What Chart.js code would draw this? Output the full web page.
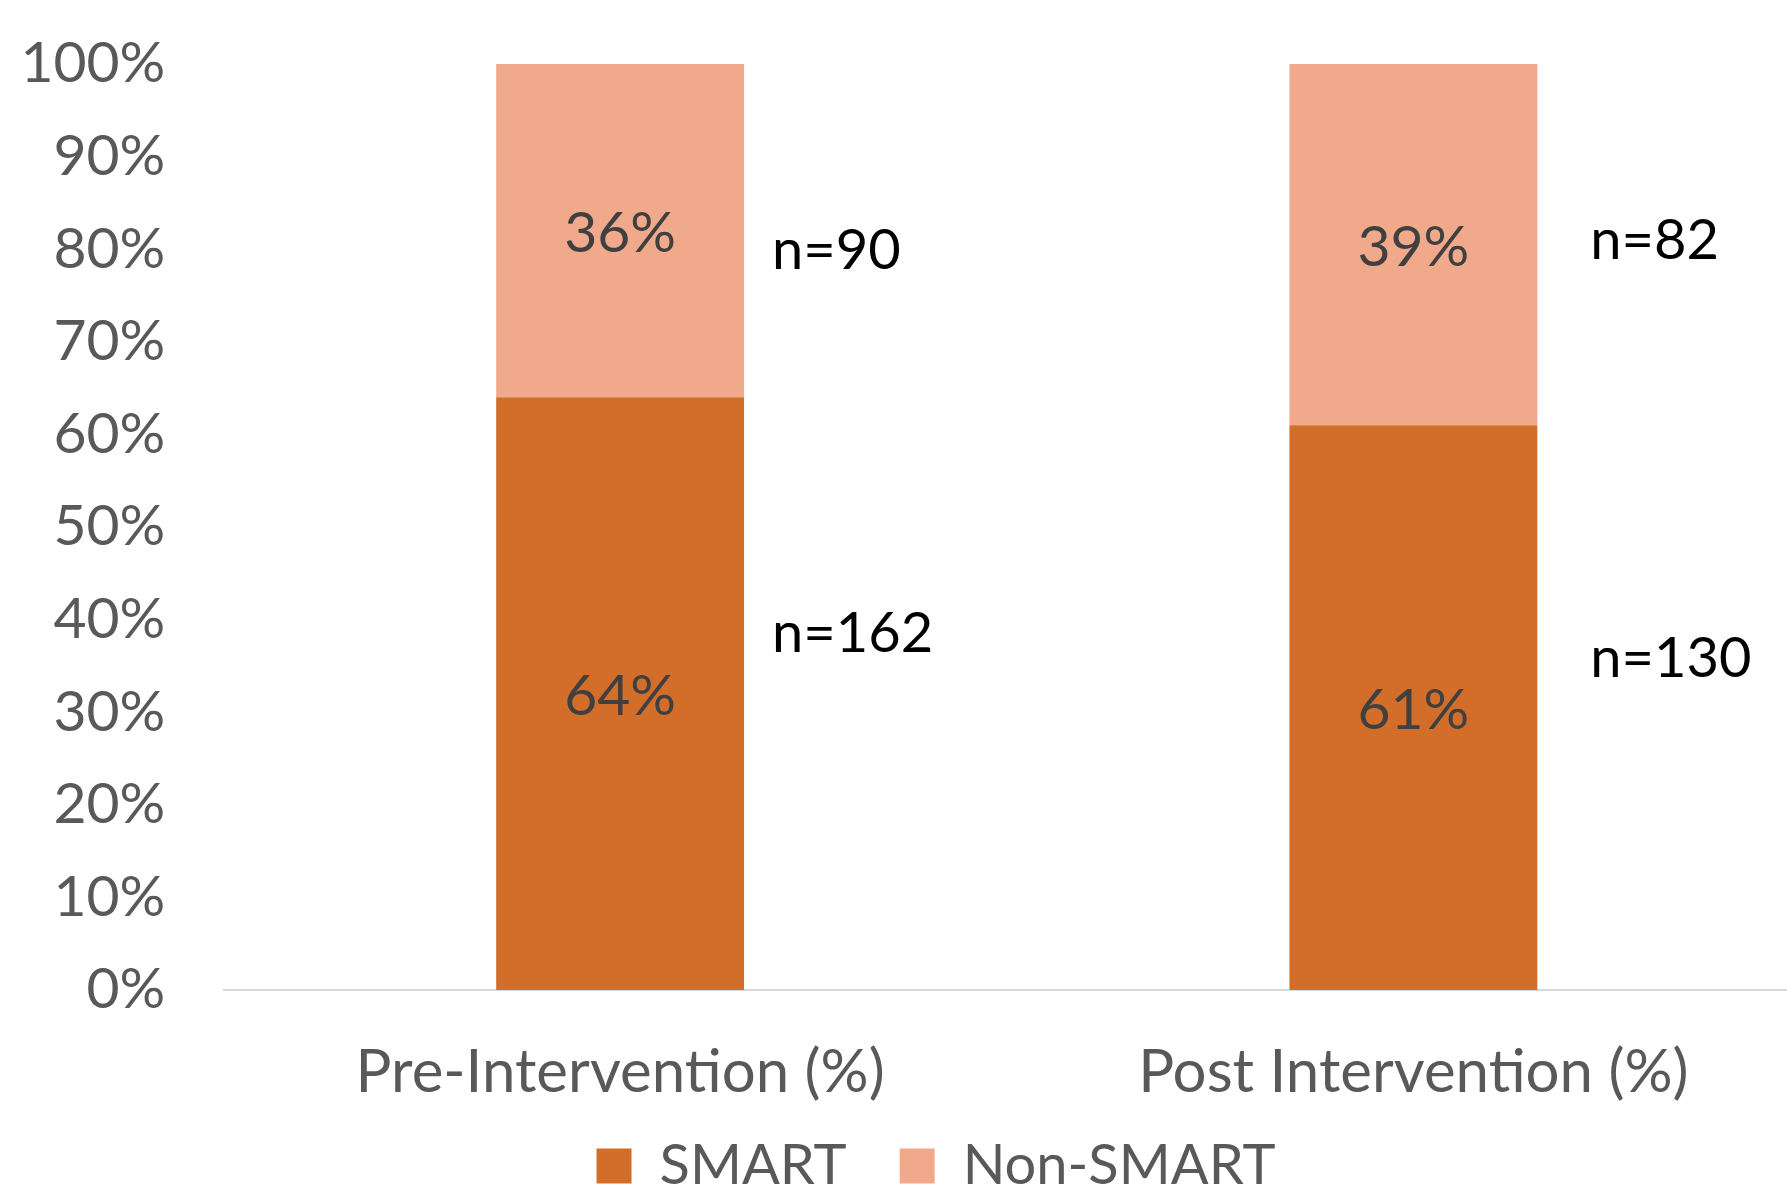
<!DOCTYPE html>
<html>
<head>
<meta charset="utf-8">
<script src="https://cdn.jsdelivr.net/npm/chart.js@4/dist/chart.umd.min.js"></script>
<style>
  html, body { margin: 0; padding: 0; background: #ffffff; overflow: hidden; }
  #wrap { width: 1810px; height: 1227px; }
</style>
</head>
<body>
<div id="wrap"><canvas id="c" width="1810" height="1227"></canvas></div>
<script>
// Share of SMART vs non-SMART items before and after the intervention
const categories = ['Pre-Intervention (%)', 'Post Intervention (%)'];
const smartPct = [64, 61];
const nonSmartPct = [36, 39];
const smartCounts = [162, 130];
const nonSmartCounts = [90, 82];
const seriesNames = ['SMART', 'Non-SMART'];
const yTickStep = 10;

// Where the "n=" annotations sit: vertical level in axis units, horizontal gap from the bar edge
const countLabelLayout = {
  smartLevel: [38.5, 35.8],
  nonSmartLevel: [79.8, 80.9],
  gapFromBar: [28, 53]
};

// Legend block offset after layout (pixels)
const legendShift = { x: 21, y: -23 };

const FONT = 'Lato, "Open Sans", sans-serif';
const AXIS_GREY = '#595959';

const valueLabels = {
  id: 'valueLabels',
  afterDatasetsDraw(chart) {
    const ctx = chart.ctx;
    const y = chart.scales.y;
    ctx.save();
    // percentages centred in each segment
    ctx.font = '57px ' + FONT;
    ctx.fillStyle = '#404040';
    ctx.textAlign = 'center';
    ctx.textBaseline = 'middle';
    chart.data.datasets.forEach((ds, di) => {
      const meta = chart.getDatasetMeta(di);
      meta.data.forEach((bar, i) => {
        ctx.fillText(ds.data[i] + '%', bar.x, (bar.y + bar.base) / 2 + 3);
      });
    });
    // sample sizes beside each bar
    ctx.font = '56px ' + FONT;
    ctx.fillStyle = '#000000';
    ctx.textAlign = 'left';
    const meta0 = chart.getDatasetMeta(0);
    meta0.data.forEach((bar, i) => {
      const x = bar.x + bar.width / 2 + countLabelLayout.gapFromBar[i];
      ctx.fillText('n=' + nonSmartCounts[i], x, y.getPixelForValue(countLabelLayout.nonSmartLevel[i]));
      ctx.fillText('n=' + smartCounts[i], x, y.getPixelForValue(countLabelLayout.smartLevel[i]));
    });
    ctx.restore();
  }
};

const legendPlacement = {
  id: 'legendPlacement',
  afterLayout(chart) {
    const lg = chart.legend;
    if (!lg) return;
    lg.left += legendShift.x; lg.right += legendShift.x;
    lg.top += legendShift.y; lg.bottom += legendShift.y;
  }
};

new Chart(document.getElementById('c'), {
  type: 'bar',
  data: {
    labels: categories,
    datasets: [
      { label: seriesNames[0], data: smartPct, backgroundColor: '#D36E2A' },
      { label: seriesNames[1], data: nonSmartPct, backgroundColor: '#F1A98C' }
    ]
  },
  options: {
    responsive: false,
    animation: false,
    devicePixelRatio: 1,
    layout: { padding: { left: 20, top: 64, right: 0, bottom: 0 } },
    datasets: { bar: { categoryPercentage: 1.0, barPercentage: 0.3125, borderWidth: 0 } },
    scales: {
      x: {
        stacked: true,
        grid: { display: false, drawTicks: false },
        border: { display: true, color: '#D9D9D9', width: 2 },
        ticks: { color: AXIS_GREY, font: { family: FONT, size: 60 }, padding: 46.5, maxRotation: 0 },
        afterFit(scale) { scale.height = 118; }
      },
      y: {
        stacked: true,
        min: 0,
        max: 100,
        grid: { display: false, drawTicks: false },
        border: { display: false },
        ticks: {
          stepSize: yTickStep,
          color: AXIS_GREY,
          font: { family: FONT, size: 57, lineHeight: '11px' },
          padding: 58.2,
          callback: v => v + '%'
        },
        afterFit(scale) { scale.width = 203.5; }
      }
    },
    plugins: {
      legend: {
        position: 'bottom',
        labels: {
          color: AXIS_GREY,
          font: { family: FONT, size: 56 },
          boxWidth: 35,
          boxHeight: 35,
          padding: 53
        }
      },
      tooltip: { enabled: false }
    }
  },
  plugins: [valueLabels, legendPlacement]
});
</script>
</body>
</html>
